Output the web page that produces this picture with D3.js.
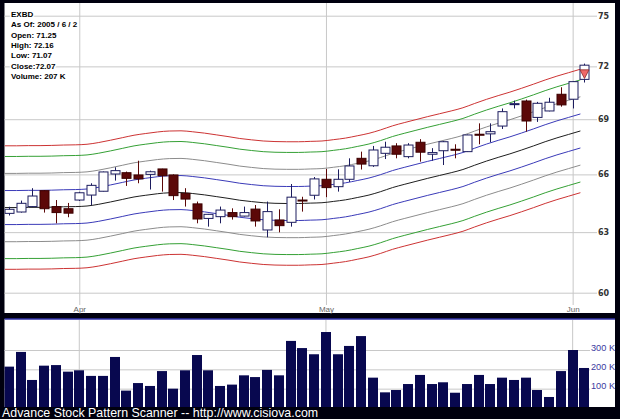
<!DOCTYPE html>
<html><head><meta charset="utf-8">
<script src="https://cdn.jsdelivr.net/npm/d3@7"></script>
<style>html,body{margin:0;padding:0;background:#00000e;} svg{display:block}</style>
</head><body>
<svg id="c" width="620" height="419"></svg>
<script>
// ---------------- DATA ----------------
const symbol = "EXBD";
const infoLines = ["EXBD", "As Of: 2005 / 6 / 2", "Open: 71.25", "High: 72.16", "Low: 71.07", "Close:72.07", "Volume: 207 K"];
const dates = [
  "2005-03-23","2005-03-24","2005-03-28","2005-03-29","2005-03-30","2005-03-31",
  "2005-04-01","2005-04-04","2005-04-05","2005-04-06","2005-04-07","2005-04-08",
  "2005-04-11","2005-04-12","2005-04-13","2005-04-14","2005-04-15",
  "2005-04-18","2005-04-19","2005-04-20","2005-04-21","2005-04-22",
  "2005-04-25","2005-04-26","2005-04-27","2005-04-28","2005-04-29",
  "2005-05-02","2005-05-03","2005-05-04","2005-05-05","2005-05-06",
  "2005-05-09","2005-05-10","2005-05-11","2005-05-12","2005-05-13",
  "2005-05-16","2005-05-17","2005-05-18","2005-05-19","2005-05-20",
  "2005-05-23","2005-05-24","2005-05-25","2005-05-26","2005-05-27",
  "2005-05-31","2005-06-01","2005-06-02"];
const opens  = [63.96,64.03,64.31,65.14,64.31,64.20,64.65,64.91,65.11,66.02,66.09,65.97,66.00,66.29,65.97,65.00,64.45,63.70,63.79,64.00,63.82,64.18,63.11,63.62,63.50,64.65,64.90,65.74,65.35,65.74,66.86,66.46,67.13,67.53,66.95,67.73,67.08,67.27,67.35,67.22,68.17,68.19,68.62,69.86,70.02,69.10,69.46,70.40,70.12,71.25];
const highs  = [64.30,64.62,65.27,65.16,64.65,64.50,65.08,65.53,66.15,66.38,66.15,66.73,66.20,66.30,66.00,65.27,64.57,63.93,64.31,64.22,64.31,64.39,64.57,64.17,65.49,64.82,65.86,66.29,66.27,66.86,67.22,67.53,67.76,67.68,67.68,67.90,67.41,67.80,67.62,68.15,68.77,68.77,69.60,70.04,70.10,69.97,70.20,70.80,71.15,72.16];
const lows   = [63.85,64.00,64.28,64.00,63.45,63.76,64.60,64.38,65.10,65.67,65.39,65.53,65.20,65.09,64.65,64.31,63.45,63.28,63.45,63.64,63.80,63.28,62.74,62.99,63.28,64.05,64.68,64.80,65.09,65.60,66.26,66.40,66.82,66.86,66.86,66.68,66.73,66.50,66.86,67.20,67.62,67.73,68.46,69.60,68.31,68.85,69.44,69.70,69.60,71.07];
const closes = [64.17,64.48,64.86,64.20,64.00,63.97,65.03,65.42,66.13,66.20,65.79,65.76,66.14,65.93,64.88,64.70,63.67,63.91,64.13,63.79,64.00,63.57,64.05,63.33,64.80,64.62,65.76,65.30,65.74,66.45,66.55,67.31,67.46,67.08,67.58,67.19,67.17,67.76,67.33,68.13,68.15,68.31,69.42,69.87,68.90,69.89,69.95,69.80,71.12,72.07];
const volumesK = [214,290,145,219,222,188,195,166,166,264,90,129,114,191,100,195,274,195,114,121,169,160,197,169,347,310,278,393,278,321,372,157,81,93,124,171,124,133,79,124,171,124,157,145,157,93,57,191,300,207];
// envelope centre line (price) and band widths (percent)
const centerLine = [64.26,64.26,64.27,64.27,64.28,64.30,64.31,64.34,64.43,64.55,64.68,64.81,64.90,64.98,65.03,65.04,64.99,64.92,64.83,64.74,64.64,64.57,64.51,64.48,64.47,64.47,64.49,64.51,64.58,64.66,64.78,64.91,65.09,65.30,65.47,65.63,65.79,65.94,66.09,66.26,66.49,66.71,66.91,67.10,67.31,67.53,67.76,67.97,68.16,68.35];
const bandPct = [1.38, 2.79, 4.2, 5.1];
const priceTicks = [60, 63, 66, 69, 72, 75];
const volumeTicksK = [100, 200, 300];
const monthTicks = ["2005-04-01","2005-05-02","2005-06-01"];
const monthLabels = ["Apr","May","Jun"];
const markerPrices = [71.80, 71.30]; // pattern marker on last bar (top, tip)
const footer = "Advance Stock Pattern Scanner -- http://www.cisiova.com";

// ---------------- STYLE / LAYOUT ----------------
const bandColors = ["#3a3ab8", "#8c8c8c", "#35a035", "#cc3333"];
const W = 620, H = 419;
const P = {left: 4.5, right: 615, top: 3, bottom: 313, plotRight: 597, axisY: 305};
const V = {top: 319, bottom: 407};

const svg = d3.select("#c");
svg.append("rect").attr("width", W).attr("height", H).attr("fill", "#00000e");
svg.append("rect").attr("x", P.left).attr("y", P.top).attr("width", P.right - P.left)
   .attr("height", P.bottom - P.top).attr("fill", "#fff");
svg.append("rect").attr("x", P.left).attr("y", V.top).attr("width", P.right - P.left)
   .attr("height", V.bottom - V.top).attr("fill", "#fff");
svg.append("line").attr("x1", P.left).attr("x2", P.right).attr("y1", V.top).attr("y2", V.top)
   .attr("stroke", "#3030a8").attr("stroke-width", 1.6);

const defs = svg.append("defs");
defs.append("clipPath").attr("id", "cm").append("rect")
   .attr("x", P.left).attr("y", P.top).attr("width", P.right - P.left).attr("height", P.axisY - P.top);
defs.append("clipPath").attr("id", "cv").append("rect")
   .attr("x", P.left).attr("y", V.top + 1).attr("width", P.right - P.left).attr("height", V.bottom - V.top - 1);

const x = d3.scalePoint().domain(dates).range([8.8, 584.4]);
const y = d3.scaleLog().domain([60, 75]).range([292.7, 15.7]);
const yv = d3.scaleLinear().domain([0, 300]).range([408, 350]);

// price grid + labels
const gy = svg.append("g").attr("transform", `translate(${P.plotRight},0)`)
  .call(d3.axisRight(y).tickValues(priceTicks).tickSize(-(P.plotRight - P.left)).tickPadding(1).tickFormat(d3.format("d")));
gy.select(".domain").remove();
gy.selectAll(".tick line").attr("stroke", "#c8c8c8");
gy.selectAll(".tick text").attr("fill", "#333").style("font", "bold 8px 'DejaVu Sans'");

// month grid + labels
const gx = svg.append("g").attr("transform", `translate(0,${P.axisY})`)
  .call(d3.axisBottom(x).tickValues(monthTicks).tickSize(-(P.axisY - P.top)).tickPadding(1)
        .tickFormat(d => monthLabels[monthTicks.indexOf(d)]));
gx.select(".domain").remove();
gx.selectAll(".tick line").attr("stroke", "#c8c8c8");
gx.selectAll(".tick text").attr("fill", "#666").style("font", "8px 'Liberation Sans'");

// info text
const info = svg.append("g");
infoLines.forEach((t, i) => {
  info.append("text").attr("x", 11).attr("y", 17 + i * 10.3).text(t)
    .attr("fill", "#000").attr("stroke", "#fff").attr("stroke-width", 3)
    .attr("paint-order", "stroke").style("font", "bold 8px 'Liberation Sans'");
});

// envelope bands
const main = svg.append("g").attr("clip-path", "url(#cm)");
const line = d3.line().x((d, i) => x(dates[i]) - 4).y(d => y(d)).curve(d3.curveMonotoneX);
bandPct.forEach((p, k) => {
  const up = centerLine.map(c => c * (1 + p / 100));
  const dn = centerLine.map(c => c / (1 + p / 100));
  main.append("path").attr("d", line(up)).attr("fill", "none").attr("stroke", bandColors[k]).attr("stroke-width", 1);
  main.append("path").attr("d", line(dn)).attr("fill", "none").attr("stroke", bandColors[k]).attr("stroke-width", 1);
});
main.append("path").attr("d", line(centerLine)).attr("fill", "none").attr("stroke", "#1e1e1e").attr("stroke-width", 1);

// candles
const upC = "#1c1c5e", dnFill = "#5c0808", dnStroke = "#3c0000";
const bw = 9;
dates.forEach((d, i) => {
  const cx = Math.round(x(d)) + 0.5;
  const isUp = closes[i] >= opens[i];
  const g = main.append("g");
  g.append("line").attr("x1", cx).attr("x2", cx).attr("y1", y(highs[i])).attr("y2", y(lows[i]))
    .attr("stroke", isUp ? upC : dnFill).attr("stroke-width", 1);
  const t = y(Math.max(opens[i], closes[i])), b = y(Math.min(opens[i], closes[i]));
  g.append("rect").attr("x", cx - bw / 2).attr("y", t).attr("width", bw).attr("height", Math.max(b - t, 1))
    .attr("fill", isUp ? "#fff" : dnFill).attr("stroke", isUp ? upC : dnStroke).attr("stroke-width", 1);
});
// pattern marker
{
  const last = dates[dates.length - 1];
  const cx = Math.round(x(last)) + 0.5;
  const yt = y(markerPrices[0]), yb = y(markerPrices[1]);
  main.append("path").attr("d", `M${cx - 4.5},${yt}L${cx + 4.5},${yt}L${cx},${yb}Z`)
    .attr("fill", "#f06868").attr("stroke", "#8a2a2a").attr("stroke-width", 0.8);
}

// volume grid + labels
const gvol = svg.append("g").attr("transform", `translate(590,0)`)
  .call(d3.axisRight(yv).tickValues(volumeTicksK).tickSize(-(590 - P.left)).tickPadding(1).tickFormat(d => d + " K"));
gvol.select(".domain").remove();
gvol.selectAll(".tick line").attr("stroke", "#c8c8c8");
gvol.selectAll(".tick text").attr("fill", "#3a3aa0").attr("dy", "0").style("font", "9.2px 'Liberation Sans'");
const vol = svg.append("g").attr("clip-path", "url(#cv)");
monthTicks.forEach(m => {
  vol.append("line").attr("x1", x(m)).attr("x2", x(m)).attr("y1", V.top).attr("y2", V.bottom).attr("stroke", "#c8c8c8");
});
vol.selectAll("rect.v").data(volumesK).join("rect").attr("class", "v")
  .attr("x", (d, i) => Math.round(x(dates[i]) - 5))
  .attr("width", 10)
  .attr("y", d => yv(d))
  .attr("height", d => yv(0) - yv(d))
  .attr("fill", "#08084f");

// footer
svg.append("text").attr("x", 2).attr("y", 417).text(footer)
  .attr("fill", "#fff").style("font", "12.4px 'Liberation Sans'");
</script>
</body></html>
